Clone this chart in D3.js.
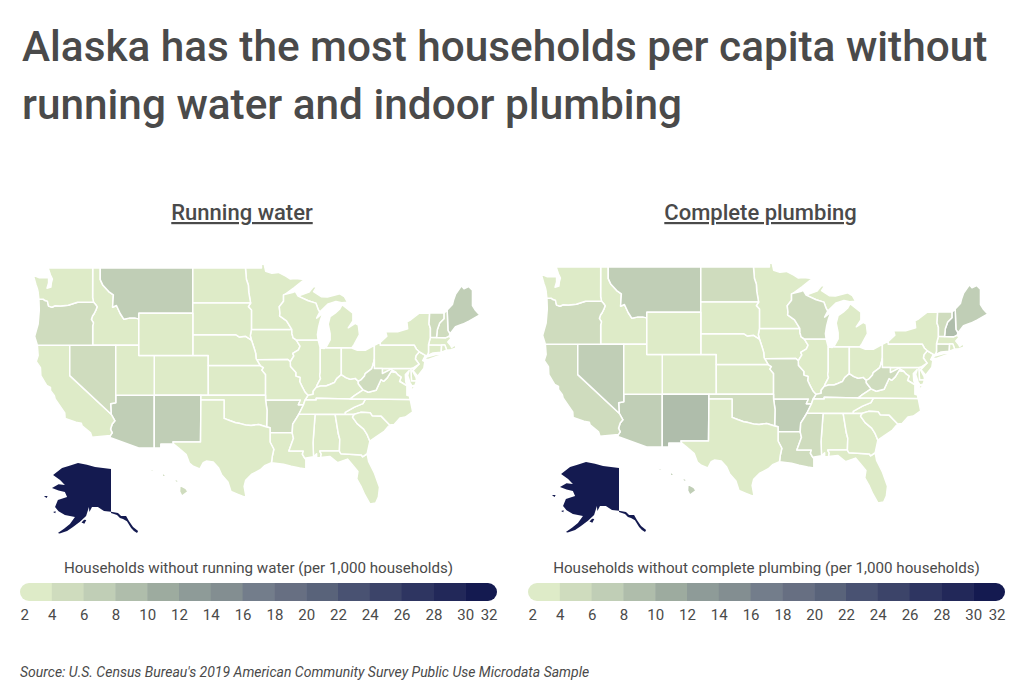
<!DOCTYPE html>
<html>
<head>
<meta charset="utf-8">
<script src="https://cdn.jsdelivr.net/npm/d3@7"></script>
<style>
  html, body { margin: 0; padding: 0; background: #fff; }
  svg { display: block; }
  text { font-family: Roboto, sans-serif; fill: #4a4a4a; }
</style>
</head>
<body>
<svg id="chart" width="1024" height="691"></svg>
<script>
// households per 1,000 (bin midpoints)
const stateNames = ["AK","AL","AR","AZ","CA","CO","CT","DE","FL","GA","HI","IA","ID","IL","IN","KS","KY","LA","MA","MD","ME","MI","MN","MO","MS","MT","NC","ND","NE","NH","NJ","NM","NV","NY","OH","OK","OR","PA","RI","SC","SD","TN","TX","UT","VA","VT","WA","WI","WV","WY"];
const runningWater =     [31,3,5,7,3,3,3,3,3,3,5,3,3,3,3,3,3,3,3,3,7,3,3,3,3,7,3,3,3,5,3,7,5,3,3,3,5,3,3,3,3,3,3,3,3,5,3,3,5,3];
const completePlumbing = [31,3,7,7,5,3,5,3,3,3,7,3,3,3,3,3,5,5,3,3,7,3,3,5,5,7,3,5,3,9,3,9,7,3,3,5,5,3,3,3,3,3,3,3,3,5,3,5,5,3];

const binEdges = [4,6,8,10,12,14,16,18,20,22,24,26,28,30];
const binColors = ["#deebc8","#cfdcbe","#c0ceb6","#afbdab","#9dab9f","#8e9b98","#838e91","#737d8b","#676f82","#59637a","#495272","#3c4469","#2e3561","#222859","#141a50"];
const legendTicks = [2,4,6,8,10,12,14,16,18,20,22,24,26,28,30,32];

const titleLines = ["Alaska has the most households per capita without","running water and indoor plumbing"];
const panelTitles = ["Running water","Complete plumbing"];
const panelTitleX = [242, 760.5];
const legendTitles = ["Households without running water (per 1,000 households)","Households without complete plumbing (per 1,000 households)"];
const sourceNote = "Source: U.S. Census Bureau's 2019 American Community Survey Public Use Microdata Sample";

// state outlines, lon/lat, simplified by hand
const outlines = {
  WA: [[[-123,49],[-117.03,49],[-117.04,46.42],[-116.92,46],[-118.98,46],[-119.3,45.93],[-120.2,45.72],[-121.2,45.65],[-121.9,45.68],[-122.3,45.55],[-122.75,45.65],[-122.9,46.1],[-123.2,46.15],[-123.45,46.27],[-124,46.27],[-124.07,46.65],[-124.1,46.9],[-124.2,47.2],[-124.4,47.6],[-124.73,48.38],[-124,48.17],[-123.2,48.15],[-122.75,48.15],[-122.75,47.7],[-122.95,47.25],[-122.45,47.35],[-122.38,47.75],[-122.25,48.05],[-122.5,48.4],[-122.75,48.9]]],
  OR: [[[-124,46.27],[-123.45,46.27],[-123.2,46.15],[-122.9,46.1],[-122.75,45.65],[-122.3,45.55],[-121.9,45.68],[-121.2,45.65],[-120.2,45.72],[-119.3,45.93],[-118.98,46],[-116.92,46],[-116.68,45.82],[-116.46,45.6],[-116.6,45.3],[-116.85,44.95],[-117.05,44.75],[-117.2,44.44],[-116.93,44.1],[-117.03,43.83],[-117.03,42],[-120,42],[-124.2,42],[-124.55,42.84],[-124.1,44],[-123.95,45.3]]],
  ID: [[[-117.03,49],[-116.05,49],[-116.05,48],[-115.7,47.5],[-114.95,46.95],[-114.35,46.65],[-114.45,45.55],[-113.95,45.7],[-113.45,44.95],[-113,44.45],[-112.3,44.55],[-111.5,44.55],[-111.05,44.48],[-111.05,42],[-114.04,42],[-117.03,42],[-117.03,43.83],[-116.93,44.1],[-117.2,44.44],[-117.05,44.75],[-116.85,44.95],[-116.6,45.3],[-116.46,45.6],[-116.68,45.82],[-116.92,46],[-117.04,46.42]]],
  MT: [[[-116.05,49],[-104.05,49],[-104.05,45],[-111.05,45],[-111.05,44.48],[-111.5,44.55],[-112.3,44.55],[-113,44.45],[-113.45,44.95],[-113.95,45.7],[-114.45,45.55],[-114.35,46.65],[-114.95,46.95],[-115.7,47.5],[-116.05,48]]],
  WY: [[[-111.05,45],[-104.05,45],[-104.05,41],[-111.05,41]]],
  ND: [[[-104.05,49],[-97.23,49],[-97.1,48],[-96.85,47.5],[-96.8,46.9],[-96.56,45.93],[-104.05,45.94]]],
  SD: [[[-104.05,45.94],[-96.56,45.93],[-96.85,45.6],[-96.45,45.3],[-96.45,43.5],[-96.6,42.9],[-96.45,42.49],[-97.2,42.85],[-98,42.77],[-98.5,43],[-104.05,43]]],
  NE: [[[-104.05,43],[-98.5,43],[-98,42.77],[-97.2,42.85],[-96.45,42.49],[-96.1,41.7],[-95.9,41.2],[-95.85,40.7],[-95.31,40],[-102.05,40],[-102.05,41],[-104.05,41]]],
  IA: [[[-96.45,43.5],[-91.22,43.5],[-91.2,43.1],[-91.05,42.7],[-90.65,42.5],[-90.15,41.9],[-90.35,41.55],[-91.1,41.2],[-90.95,40.95],[-91.42,40.38],[-91.72,40.6],[-95.77,40.58],[-95.85,40.7],[-95.9,41.2],[-96.1,41.7],[-96.45,42.49],[-96.6,42.9]]],
  MN: [[[-97.23,49],[-95.15,49],[-95.15,49.38],[-94.8,49.3],[-94.6,48.72],[-93.8,48.55],[-92.95,48.62],[-92,48.3],[-91.4,48.05],[-90.75,48.1],[-89.6,48],[-90.9,47.3],[-92.05,46.72],[-92.29,46.66],[-92.29,46.08],[-92.85,45.6],[-92.75,45],[-92.8,44.75],[-91.9,44.3],[-91.22,43.5],[-96.45,43.5],[-96.45,45.3],[-96.85,45.6],[-96.56,45.93],[-96.8,46.9],[-96.85,47.5],[-97.1,48]]],
  WI: [[[-92.29,46.66],[-92.05,46.72],[-91,46.9],[-90.75,46.95],[-90.4,46.55],[-89.1,46.13],[-88.1,45.92],[-87.8,45.35],[-87.6,45.1],[-88,44.55],[-87.4,44.9],[-87.05,45.25],[-87.5,44.4],[-87.75,43.7],[-87.9,43],[-87.8,42.49],[-90.65,42.5],[-91.05,42.7],[-91.2,43.1],[-91.22,43.5],[-91.9,44.3],[-92.8,44.75],[-92.75,45],[-92.85,45.6],[-92.29,46.08]]],
  IL: [[[-90.65,42.5],[-87.8,42.49],[-87.53,41.72],[-87.53,39.35],[-87.6,39],[-87.5,38.7],[-87.95,38],[-88.05,37.8],[-88.45,37.4],[-88.45,37.1],[-89.13,36.98],[-89.5,37.3],[-89.9,37.9],[-90.2,38.4],[-90.15,38.8],[-90.7,38.95],[-90.7,39.3],[-91.4,39.9],[-91.42,40.38],[-90.95,40.95],[-91.1,41.2],[-90.35,41.55],[-90.15,41.9]]],
  IN: [[[-87.53,41.72],[-87,41.68],[-86.8,41.76],[-84.8,41.76],[-84.8,39.1],[-85.4,38.7],[-85.7,38.3],[-86.3,38.1],[-86.8,37.95],[-87.5,37.95],[-88.05,37.8],[-87.95,38],[-87.5,38.7],[-87.6,39],[-87.53,39.35]]],
  OH: [[[-84.8,41.76],[-83.45,41.73],[-82.7,41.5],[-81.7,41.5],[-80.52,41.98],[-80.52,40.64],[-80.65,40.2],[-80.85,39.7],[-81.7,39.2],[-81.8,38.95],[-82.2,38.6],[-82.6,38.42],[-83,38.72],[-83.65,38.63],[-84.2,38.8],[-84.8,39.1]]],
  MI: [[[-86.8,41.76],[-84.8,41.76],[-83.45,41.73],[-83.15,42.05],[-82.45,43],[-82.6,43.9],[-83,44.07],[-83.9,43.65],[-83.3,44.3],[-83.3,45],[-84.7,45.78],[-85,45.4],[-85.6,45],[-86.25,44.7],[-86.5,44],[-86.25,43.1],[-86.25,42.5]],
       [[-90.4,46.55],[-89,46.9],[-88.45,47.35],[-87.9,47.47],[-88.4,46.95],[-87.4,46.5],[-86.6,46.47],[-85,46.75],[-84.4,46.5],[-84,46],[-84.75,45.95],[-85.5,46.07],[-86.5,45.85],[-87.6,45.1],[-87.8,45.35],[-88.1,45.92],[-89.1,46.13]]],
  KY: [[[-89.13,36.98],[-88.45,37.1],[-88.45,37.4],[-88.05,37.8],[-87.5,37.95],[-86.8,37.95],[-86.3,38.1],[-85.7,38.3],[-85.4,38.7],[-84.8,39.1],[-84.2,38.8],[-83.65,38.63],[-83,38.72],[-82.6,38.42],[-82.6,38.17],[-81.97,37.54],[-83.1,36.95],[-83.68,36.6],[-88.06,36.68],[-88.06,36.5],[-89.5,36.5]]],
  TN: [[[-89.5,36.5],[-88.06,36.5],[-88.06,36.68],[-83.68,36.6],[-81.68,36.59],[-82,36.12],[-83.1,35.75],[-84.3,35.2],[-84.32,34.99],[-88.2,35],[-90.31,35],[-89.7,36]]],
  VA: [[[-83.68,36.6],[-81.68,36.59],[-75.87,36.55],[-76,36.93],[-76.3,37],[-76.3,37.5],[-76.3,37.95],[-77,38.3],[-77.25,38.4],[-77.05,38.85],[-77.5,39.1],[-77.72,39.32],[-78.35,39.4],[-78.85,38.77],[-79.3,38.42],[-79.65,38.6],[-80.3,37.5],[-81.3,37.3],[-81.97,37.54],[-83.1,36.95]],
       [[-75.95,37.15],[-75.3,37.9],[-75.65,37.95]]],
  WV: [[[-80.52,40.64],[-80.52,39.72],[-79.48,39.72],[-79.48,39.2],[-78.4,39.62],[-77.72,39.32],[-78.35,39.4],[-78.85,38.77],[-79.3,38.42],[-79.65,38.6],[-80.3,37.5],[-81.3,37.3],[-81.97,37.54],[-82.6,38.17],[-82.6,38.42],[-82.2,38.6],[-81.8,38.95],[-81.7,39.2],[-80.85,39.7],[-80.65,40.2]]],
  MD: [[[-79.48,39.72],[-75.79,39.72],[-75.7,38.46],[-75.05,38.45],[-75.25,38.03],[-75.65,37.95],[-75.9,38.3],[-76.2,39],[-76,39.5],[-76.5,39.1],[-76.45,38.4],[-76.3,37.95],[-77,38.3],[-77.25,38.4],[-77.05,38.85],[-77.5,39.1],[-77.72,39.32],[-78.4,39.62],[-79.48,39.2]]],
  DE: [[[-75.79,39.72],[-75.42,39.8],[-75.55,39.45],[-75.1,38.8],[-75.05,38.45],[-75.7,38.46]]],
  PA: [[[-80.52,41.98],[-79.76,42.27],[-79.76,42],[-75.35,42],[-75.05,41.6],[-74.7,41.36],[-75.13,40.97],[-75.2,40.65],[-74.72,40.15],[-75.42,39.8],[-75.79,39.72],[-80.52,39.72]]],
  NJ: [[[-74.7,41.36],[-73.9,41],[-74.25,40.5],[-73.98,40.4],[-74.1,39.75],[-74.9,38.93],[-75.5,39.5],[-74.72,40.15],[-75.2,40.65],[-75.13,40.97]]],
  NY: [[[-79.76,42],[-75.35,42],[-75.05,41.6],[-74.7,41.36],[-73.9,41],[-73.65,41],[-73.5,41.3],[-73.5,42.05],[-73.25,42.75],[-73.25,43.6],[-73.43,44],[-73.35,45.01],[-74.7,45],[-75.8,44.4],[-76.3,44.2],[-76.2,43.55],[-77.5,43.27],[-79.05,43.27],[-78.9,42.85],[-79.76,42.27]],
       [[-74.03,40.6],[-73.75,40.85],[-72.3,41.15],[-71.9,41.05],[-73.5,40.6]]],
  VT: [[[-73.35,45.01],[-71.5,45.01],[-71.5,44.5],[-72.05,44.1],[-72.35,43.5],[-72.46,42.73],[-73.25,42.75],[-73.25,43.6],[-73.43,44]]],
  NH: [[[-71.5,45.01],[-71.08,45.3],[-70.98,43.4],[-70.72,43.07],[-70.82,42.87],[-71.3,42.7],[-72.46,42.73],[-72.35,43.5],[-72.05,44.1],[-71.5,44.5]]],
  ME: [[[-71.08,45.3],[-70.4,45.8],[-70.25,46.2],[-70,46.7],[-69.23,47.46],[-68.9,47.2],[-68.3,47.4],[-67.8,47.07],[-67.8,45.7],[-67.45,45.3],[-66.85,44.85],[-68.2,44.3],[-69.05,44],[-70,43.75],[-70.72,43.07],[-70.98,43.4]]],
  MA: [[[-73.5,42.05],[-73.25,42.75],[-72.46,42.73],[-71.3,42.7],[-70.82,42.87],[-70.6,42.65],[-71,42.3],[-70.65,42],[-70.5,41.78],[-70.05,42.05],[-69.95,41.7],[-70.6,41.55],[-71.13,41.5],[-71.38,42.02],[-71.8,42.02]]],
  RI: [[[-71.8,42.02],[-71.38,42.02],[-71.13,41.5],[-71.4,41.45],[-71.85,41.32]]],
  CT: [[[-73.5,42.05],[-71.8,42.02],[-71.85,41.32],[-72.9,41.25],[-73.65,41],[-73.5,41.3]]],
  MO: [[[-95.77,40.58],[-91.72,40.6],[-91.42,40.38],[-91.4,39.9],[-90.7,39.3],[-90.7,38.95],[-90.15,38.8],[-90.2,38.4],[-89.9,37.9],[-89.5,37.3],[-89.13,36.98],[-89.5,36.5],[-89.7,36],[-90.37,36],[-90.1,36.5],[-94.62,36.5],[-94.62,39.1],[-95.1,39.55],[-94.9,39.8],[-95.31,40],[-95.85,40.7]]],
  KS: [[[-102.05,40],[-95.31,40],[-94.9,39.8],[-95.1,39.55],[-94.62,39.1],[-94.62,37],[-102.04,37]]],
  CO: [[[-109.05,41],[-102.05,41],[-102.05,40],[-102.04,37],[-109.05,37]]],
  UT: [[[-114.04,42],[-111.05,42],[-111.05,41],[-109.05,41],[-109.05,37],[-114.04,37]]],
  NV: [[[-120,42],[-114.04,42],[-114.04,36.2],[-114.7,36.1],[-114.63,35],[-120,39]]],
  CA: [[[-124.2,42],[-120,42],[-120,39],[-114.63,35],[-114.15,34.3],[-114.5,33.95],[-114.72,33.4],[-114.5,33],[-114.72,32.72],[-117.12,32.53],[-117.3,33],[-118.4,33.75],[-118.5,34.03],[-119.2,34.15],[-120.6,34.55],[-120.65,35.15],[-121.9,36.6],[-122,36.95],[-122.5,37.5],[-122.5,37.8],[-123,38],[-123.75,39],[-123.8,39.8],[-124.35,40.4],[-124.1,41]]],
  AZ: [[[-114.04,37],[-109.05,37],[-109.05,31.33],[-111.07,31.33],[-114.81,32.5],[-114.72,32.72],[-114.5,33],[-114.72,33.4],[-114.5,33.95],[-114.15,34.3],[-114.63,35],[-114.7,36.1],[-114.04,36.2]]],
  NM: [[[-109.05,37],[-103,37],[-103,36.5],[-103.05,32],[-106.62,32],[-106.53,31.78],[-108.2,31.78],[-108.2,31.33],[-109.05,31.33]]],
  OK: [[[-103,37],[-94.62,37],[-94.62,36.5],[-94.43,35.4],[-94.48,33.64],[-95.5,33.9],[-96.5,33.8],[-97.2,33.85],[-97.9,34],[-98.5,34.1],[-99.2,34.3],[-100,34.56],[-100,36.5],[-103,36.5]]],
  TX: [[[-103,36.5],[-100,36.5],[-100,34.56],[-99.2,34.3],[-98.5,34.1],[-97.9,34],[-97.2,33.85],[-96.5,33.8],[-95.5,33.9],[-94.48,33.64],[-94.04,33.55],[-94.04,33.02],[-94.04,32],[-93.55,31.2],[-93.75,30.4],[-93.85,29.7],[-94.75,29.35],[-95.3,28.9],[-96.4,28.4],[-97.2,27.7],[-97.4,27],[-97.15,25.75],[-97.6,25.85],[-98.2,26.07],[-99.1,26.4],[-99.5,27.5],[-100.3,28.3],[-100.7,29.1],[-101.4,29.77],[-102.3,29.88],[-102.7,29.7],[-103.15,28.98],[-104,29.3],[-104.5,29.65],[-104.9,30.6],[-106,31.4],[-106.53,31.78],[-106.62,32],[-103.05,32]]],
  AR: [[[-94.62,36.5],[-90.1,36.5],[-90.37,36],[-89.7,36],[-90.31,35],[-90.6,34.6],[-91.1,33.95],[-91.17,33],[-94.04,33.02],[-94.04,33.55],[-94.48,33.64],[-94.43,35.4]]],
  LA: [[[-94.04,33.02],[-91.17,33],[-91,32.4],[-91.6,31],[-89.73,31],[-89.85,30.65],[-89.55,30.2],[-89.4,30.05],[-89.4,29.8],[-89.4,29],[-90.2,29.1],[-91.3,29.3],[-92.3,29.53],[-93.85,29.7],[-93.75,30.4],[-93.55,31.2],[-94.04,32]]],
  MS: [[[-90.31,35],[-90.6,34.6],[-91.1,33.95],[-91.17,33],[-91,32.4],[-91.6,31],[-89.73,31],[-89.85,30.65],[-89.55,30.2],[-88.4,30.37],[-88.47,31.9],[-88.2,35]]],
  AL: [[[-88.2,35],[-85.6,34.98],[-85.18,32.87],[-85,32.3],[-85.05,31],[-87.6,31],[-87.4,30.65],[-87.5,30.28],[-88,30.23],[-88,30.7],[-88.4,30.37],[-88.47,31.9]]],
  GA: [[[-85.6,34.98],[-83.11,35],[-83.35,34.7],[-82.75,34],[-81.9,33.4],[-81.45,32.8],[-81.1,32.1],[-81.45,30.7],[-82.05,30.36],[-82.2,30.57],[-84.86,30.7],[-85.05,31],[-85,32.3],[-85.18,32.87]]],
  FL: [[[-87.5,30.28],[-87.4,30.65],[-87.6,31],[-85.05,31],[-84.86,30.7],[-82.2,30.57],[-82.05,30.36],[-81.45,30.7],[-81.25,29.8],[-80.5,28.5],[-79.85,26.9],[-80,25.75],[-80.35,25.05],[-81.1,24.95],[-81.75,26],[-82.2,26.9],[-82.8,27.85],[-82.65,28.7],[-83.4,29.5],[-84,30.1],[-85.3,29.7],[-86.3,30.4]]],
  SC: [[[-83.11,35],[-82.3,35.2],[-81.05,35.15],[-80.8,34.82],[-79.67,34.8],[-78.55,33.86],[-79.2,33.2],[-80.4,32.5],[-81.1,32.1],[-81.45,32.8],[-81.9,33.4],[-82.75,34],[-83.35,34.7]]],
  NC: [[[-84.32,34.99],[-83.11,35],[-82.3,35.2],[-81.05,35.15],[-80.8,34.82],[-79.67,34.8],[-78.55,33.86],[-77.95,33.9],[-77.2,34.6],[-76.5,34.7],[-75.55,35.25],[-75.87,36.55],[-81.68,36.59],[-82,36.12],[-83.1,35.75],[-84.3,35.2]]],
  HI: [[[-155.9,20.25],[-155.1,19.85],[-154.85,19.5],[-155.65,18.95],[-155.95,19.5]],
       [[-156.7,20.95],[-156.3,20.95],[-156,20.75],[-156.4,20.58]],
       [[-158.25,21.55],[-157.95,21.7],[-157.7,21.3],[-158.1,21.3]],
       [[-159.75,22.1],[-159.4,22.2],[-159.35,21.95],[-159.6,21.9]]],
  AK: [[[-141,69.6],[-148.3,70.2],[-152,70.85],[-156.1,71.4],[-160,70.6],[-163.4,69.9],[-167.5,68.3],[-164.3,67.2],[-162.1,66.1],[-165,66.3],[-168,65.45],[-165,64.9],[-162.1,64.6],[-161.1,63.5],[-165.3,62.85],[-166.6,61.3],[-165,60.4],[-162.1,59.4],[-157.5,58.85],[-159.8,56.9],[-162.5,55.6],[-165.3,54.4],[-164.5,54.3],[-161.1,54.97],[-158.4,56.1],[-155.2,57.5],[-152.4,59.1],[-151.1,61.3],[-150.9,60.2],[-149.7,61.3],[-147,61.3],[-144.2,60.45],[-141,60.3]],
       [[-141,60.3],[-137.8,59.94],[-136.4,59.1],[-134.1,59.1],[-132.8,57.74],[-130.9,56.1],[-128.6,54.97],[-129.1,54.4],[-130.5,54.97],[-131.8,55.8],[-133.7,57.7],[-135.5,58.3],[-136.9,58.55],[-138.25,59.4],[-141,59.94]],
       [[-154.5,57.3],[-153.3,58.1],[-152.3,58],[-153.2,57]],
       [[-167.5,60.2],[-166.3,60.4],[-166.5,59.9]],
       [[-171.7,63.7],[-170,63.7],[-170.5,63.3]]]
};

const panelShift = 508;

const lower48 = d3.geoMercator().scale(442).translate([995.5, 702.8]);
const hawaii = d3.geoMercator().scale(442).translate([1382.6, 645]);
// Alaska inset has its own stretch in the source, so it gets plain scales
const akX = d3.scaleLinear().domain([-168, -141]).range([52, 111]);
const akY = d3.scaleLinear().domain([71.4, 69.6, 60.3, 54.7]).range([463, 469, 511.7, 532]);
const alaska = ([lon, lat]) => [akX(lon), akY(lat)];

const color = d3.scaleThreshold().domain(binEdges).range(binColors);

function statePath(name) {
  const project = name === "AK" ? alaska : name === "HI" ? hawaii : lower48;
  return outlines[name].map(ring => d3.line()(ring.map(project)) + "Z").join("");
}

const svg = d3.select("#chart");

svg.selectAll(".headline")
  .data(titleLines)
  .join("text")
  .attr("class", "headline")
  .attr("x", 22)
  .attr("y", (d, i) => 61 + i * 58)
  .style("font-size", "42.3px")
  .style("font-weight", 500)
  .text(d => d);

const defs = svg.append("defs");
const legendX = d3.scaleLinear().domain([2, 32]).range([0, 477]);

function drawPanel(values, index) {
  const dx = index * panelShift;
  const panel = svg.append("g");

  panel.append("text")
    .attr("x", panelTitleX[index])
    .attr("y", 220)
    .attr("text-anchor", "middle")
    .style("font-size", "22px")
    .style("font-weight", 500)
    .style("text-decoration", "underline")
    .text(panelTitles[index]);

  const map = panel.append("g").attr("transform", `translate(${dx},${index ? -1 : 0})`);
  map.selectAll("path")
    .data(stateNames)
    .join("path")
    .attr("d", statePath)
    .attr("fill", (d, i) => color(values[i]))
    .attr("stroke", d => d === "AK" ? "none" : "#fff")
    .attr("stroke-width", 1.5)
    .attr("stroke-linejoin", "round");

  const legend = panel.append("g").attr("transform", `translate(${20 + dx},583)`);

  legend.append("text")
    .attr("x", legendX(17))
    .attr("y", -10)
    .attr("text-anchor", "middle")
    .style("font-size", "15.15px")
    .text(legendTitles[index]);

  const clipId = `legend-clip-${index}`;
  defs.append("clipPath").attr("id", clipId)
    .append("rect")
    .attr("width", legendX(32))
    .attr("height", 18)
    .attr("rx", 9);

  const bins = legendTicks.slice(0, -1);
  legend.append("g")
    .attr("clip-path", `url(#${clipId})`)
    .selectAll("rect")
    .data(bins)
    .join("rect")
    .attr("x", d => legendX(d))
    .attr("width", d => legendX(d + 2) - legendX(d) + 0.5)
    .attr("height", 18)
    .attr("fill", d => color(d));

  const axis = legend.append("g")
    .attr("transform", "translate(0,18)")
    .call(d3.axisBottom(legendX).tickValues(legendTicks).tickSize(0).tickPadding(8));
  axis.select(".domain").remove();
  axis.selectAll("text")
    .style("font-size", "15px")
    .style("font-family", "Roboto, sans-serif")
    .attr("text-anchor", d => d === 2 ? "start" : d === 32 ? "end" : "middle");
}

drawPanel(runningWater, 0);
drawPanel(completePlumbing, 1);

svg.append("text")
  .attr("x", 20)
  .attr("y", 677)
  .style("font-size", "14px")
  .style("font-style", "italic")
  .text(sourceNote);
</script>
</body>
</html>
